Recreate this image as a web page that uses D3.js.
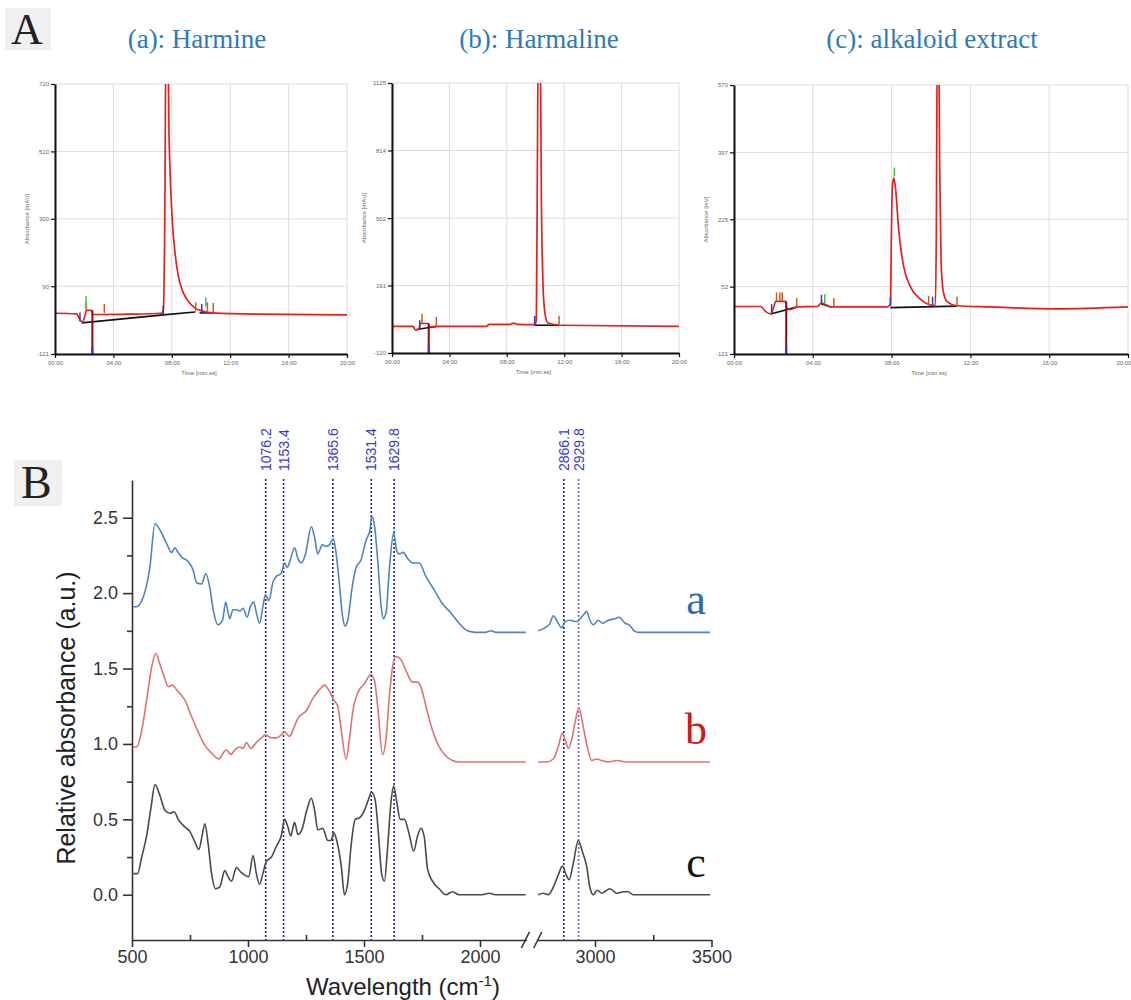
<!DOCTYPE html>
<html>
<head>
<meta charset="utf-8">
<script src="https://cdn.jsdelivr.net/npm/d3@7"></script>
<style>
body { margin: 0; background: #fff; }
svg { display: block; }
</style>
</head>
<body>
<div id="chart-area"></div>
<script>

// ---------- Panel A : HPLC chromatograms (time in min, signal in mAU) ----------
let timeTicks = [0, 4, 8, 12, 16, 20];
let timeLabels = ["00:00", "04:00", "08:00", "12:00", "16:00", "20:00"];

let harmineTicks = [720, 510, 300, 90, -121];
let harmineTrace = [[0,6],[1.48,4],[1.71,-14],[1.87,-22],[2.05,-2],[2.16,15],[2.51,15],[2.6,2],[2.97,2],[5,3],
  [7.3,6],[7.42,17],[7.53,360],[7.6,900],[7.72,900],[7.81,568],[7.92,401],[8.06,276],[8.22,194],[8.45,121],
  [8.75,74],[9.13,43],[9.59,22],[10.16,12],[10.84,7],[14,3],[20,1]];
let harmineBaseline = [[[1.83,-24],[7.42,1],[9.6,10]], [[9.9,7],[10.84,7]]];
let harmineDrop = [2.56, 15];
let harmineMarks = [[1.71,-20,"start"],[2.13,12,"end"],[2.13,32,"apex"],[3.38,7,"end"],[7.42,2,"start"],
  [9.64,12,"end"],[10.05,7,"start"],[10.33,27,"apex"],[10.44,12,"end"],[10.84,10,"end"]];

let harmalineTicks = [1125, 814, 502, 191, -120];
let harmalineTrace = [[0,3],[1.46,3],[1.65,-15],[1.88,-7],[1.98,16],[2.51,16],[2.63,0],[3.09,3],[6.58,3],[6.76,12],
  [8.2,12],[8.48,18],[8.78,12],[9.94,11],[10.06,31],[10.13,738],[10.2,1400],[10.32,1400],[10.41,585],[10.52,200],
  [10.66,62],[10.87,18],[11.69,8],[20,3]];
let harmalineBaseline = [[[1.7,-12],[3.09,2]], [[9.94,8],[11.64,8]]];
let harmalineDrop = [2.56, 16];
let harmalineMarks = [[1.93,-10,"start"],[2.09,20,"end"],[3.09,5,"end"],[9.94,10,"start"],[11.64,10,"end"]];

let extractTicks = [570, 397, 225, 52, -121];
let extractTrace = [[0,1],[1.35,1],[1.61,-12],[1.86,-18],[2.03,1],[2.11,14],[2.62,14],[2.67,-3],[2.87,-7],[3.21,0],
  [4.23,1],[4.43,10],[4.65,6],[4.9,0],[7.77,0],[7.94,6],[7.99,190],[8.04,309],[8.11,331],[8.19,309],[8.36,198],
  [8.61,104],[8.95,52],[9.46,20],[9.88,6],[10.22,3],[10.27,190],[10.32,700],[10.39,700],[10.44,360],[10.51,121],
  [10.61,44],[10.81,14],[11.32,3],[13,0],[16.4,-5],[20,0]];
let extractBaseline = [[[1.86,-18],[3.21,0]], [[4.43,8],[4.9,0]], [[7.94,-2],[11.32,2]]];
let extractDrop = [2.65, 14];
let extractMarks = [[1.91,-16,"start"],[2.16,14,"end"],[2.33,14,"end"],[2.45,14,"end"],[3.18,0,"end"],
  [4.44,8,"start"],[4.61,10,"apex"],[5.07,0,"end"],[7.94,2,"start"],[8.14,335,"apex"],[9.88,5,"end"],
  [10.08,3,"start"],[11.32,3,"end"]];

// ---------- Panel B : FTIR spectra [wavenumber, relative absorbance] ----------
let yTicksB = [0, 0.5, 1, 1.5, 2, 2.5];
let yMinorB = [0.25, 0.75, 1.25, 1.75, 2.25];
let xTicksLeft = [500, 1000, 1500, 2000];
let xMinorLeft = [750, 1250, 1750];
let xTicksRight = [3000, 3500];
let xMinorRight = [3250];
let peakPositions = [1076.2, 1153.4, 1365.6, 1531.4, 1629.8, 2866.1, 2929.8];

let ftirA = [[506,1.91],[520,1.91],[542,1.95],[556,2.01],[577,2.17],[599,2.46],[620,2.42],[649,2.33],[671,2.27],
  [685,2.30],[699,2.27],[714,2.24],[742,2.21],[764,2.15],[778,2.07],[800,2.06],[818,2.13],[835,2.04],[850,1.89],
  [871,1.79],[890,1.82],[904,1.94],[921,1.83],[935,1.89],[953,1.89],[964,1.88],[979,1.90],[996,1.84],[1010,1.91],
  [1025,1.94],[1036,1.87],[1050,1.80],[1064,1.91],[1076,1.99],[1090,1.95],[1107,2.07],[1122,2.11],[1143,2.13],
  [1158,2.20],[1169,2.17],[1182,2.22],[1201,2.30],[1215,2.23],[1230,2.20],[1248,2.26],[1273,2.44],[1287,2.37],
  [1301,2.26],[1320,2.32],[1337,2.31],[1351,2.32],[1368,2.36],[1380,2.26],[1394,2.06],[1408,1.84],[1419,1.78],
  [1430,1.82],[1449,2.04],[1466,2.17],[1487,2.22],[1509,2.35],[1526,2.42],[1533,2.51],[1545,2.45],[1559,2.22],
  [1574,1.91],[1583,1.83],[1595,1.87],[1609,2.15],[1628,2.40],[1641,2.28],[1652,2.26],[1669,2.27],[1688,2.23],
  [1709,2.20],[1738,2.20],[1767,2.11],[1803,2.02],[1838,1.93],[1874,1.87],[1910,1.80],[1946,1.75],[1982,1.74],
  [2025,1.74],[2047,1.75],[2068,1.74],[2197,1.74],
  [2756,1.75],[2785,1.77],[2807,1.80],[2821,1.85],[2835,1.82],[2857,1.77],[2871,1.81],[2892,1.82],[2921,1.81],
  [2936,1.83],[2953,1.86],[2964,1.88],[2978,1.82],[2993,1.79],[3014,1.82],[3033,1.80],[3057,1.82],[3086,1.83],
  [3104,1.84],[3129,1.80],[3147,1.79],[3168,1.75],[3186,1.74],[3494,1.74]];

let ftirB = [[506,0.98],[520,0.98],[542,1.09],[563,1.29],[585,1.51],[602,1.60],[620,1.53],[642,1.43],[656,1.38],
  [673,1.39],[692,1.36],[714,1.32],[728,1.29],[757,1.18],[785,1.08],[814,0.99],[843,0.94],[875,0.90],[893,0.94],
  [907,0.96],[926,0.93],[943,0.96],[964,0.98],[979,0.97],[993,1.01],[1012,0.97],[1036,1.01],[1058,1.04],[1075,1.06],
  [1101,1.04],[1122,1.04],[1143,1.06],[1158,1.08],[1179,1.05],[1193,1.09],[1215,1.17],[1251,1.22],[1279,1.30],
  [1308,1.36],[1330,1.39],[1351,1.35],[1370,1.29],[1387,1.25],[1402,1.09],[1423,0.90],[1437,1.03],[1452,1.22],
  [1473,1.34],[1502,1.40],[1530,1.46],[1545,1.42],[1559,1.25],[1580,0.93],[1595,1.03],[1609,1.31],[1623,1.51],
  [1638,1.58],[1659,1.56],[1680,1.49],[1709,1.41],[1731,1.41],[1745,1.38],[1767,1.25],[1795,1.09],[1824,0.98],
  [1853,0.92],[1881,0.89],[1910,0.88],[2197,0.88],
  [2756,0.88],[2792,0.88],[2821,0.90],[2842,0.98],[2860,1.07],[2871,1.03],[2886,0.97],[2900,1.03],[2914,1.14],
  [2931,1.24],[2950,1.11],[2967,0.98],[2986,0.89],[3007,0.90],[3029,0.89],[3057,0.88],[3093,0.89],[3136,0.88],
  [3164,0.88],[3379,0.88],[3422,0.88],[3494,0.88]];

let ftirC = [[506,0.14],[524,0.14],[542,0.25],[563,0.39],[582,0.58],[599,0.73],[620,0.66],[642,0.56],[663,0.54],
  [682,0.55],[699,0.50],[728,0.45],[749,0.42],[771,0.35],[788,0.30],[802,0.39],[814,0.47],[828,0.34],[843,0.14],
  [860,0.04],[878,0.05],[900,0.16],[914,0.12],[929,0.09],[950,0.18],[969,0.15],[986,0.13],[1003,0.12],[1022,0.26],
  [1036,0.14],[1050,0.07],[1064,0.14],[1079,0.22],[1101,0.25],[1122,0.32],[1143,0.39],[1158,0.50],[1172,0.45],
  [1184,0.39],[1201,0.48],[1215,0.40],[1232,0.43],[1255,0.57],[1273,0.64],[1287,0.56],[1301,0.43],[1322,0.44],
  [1344,0.36],[1358,0.36],[1370,0.41],[1384,0.35],[1402,0.19],[1416,0.00],[1430,0.08],[1444,0.32],[1462,0.50],
  [1480,0.51],[1502,0.56],[1519,0.63],[1533,0.68],[1548,0.63],[1562,0.41],[1576,0.14],[1588,0.09],[1602,0.32],
  [1616,0.61],[1628,0.72],[1642,0.61],[1656,0.50],[1674,0.50],[1695,0.40],[1714,0.29],[1731,0.39],[1746,0.44],
  [1760,0.38],[1774,0.17],[1795,0.09],[1824,0.04],[1853,0.00],[1881,0.02],[1910,0.00],[2010,0.00],[2039,0.01],
  [2068,0.00],[2197,0.00],
  [2756,0.00],[2778,0.01],[2799,0.00],[2821,0.05],[2842,0.13],[2860,0.19],[2874,0.14],[2889,0.10],[2907,0.21],
  [2928,0.36],[2947,0.28],[2964,0.19],[2978,0.05],[2993,0.00],[3010,0.03],[3029,0.01],[3065,0.04],[3093,0.01],
  [3122,0.02],[3143,0.02],[3164,0.00],[3494,0.00]];


let svg = d3.select("#chart-area").append("svg")
    .attr("width", 1131)
    .attr("height", 1000);

let defs = svg.append("defs");

let markColor = {start: "#3434d0", end: "#d2561e", apex: "#3cbf5a"};

// panel letters with their grey scanned background
function panelLetter(txt, x, y, size, box) {
  svg.append("rect").attr("x", box[0]).attr("y", box[1]).attr("width", box[2]).attr("height", box[3])
    .attr("fill", "#f0f0f0");
  svg.append("text").attr("x", x).attr("y", y).text(txt)
    .attr("font-family", "'Liberation Serif', 'Times New Roman', serif")
    .attr("font-size", size).attr("fill", "#222");
}
panelLetter("A", 11, 44, 44, [5, 8, 46, 42]);
panelLetter("B", 21, 498, 46, [14, 460, 48, 46]);

// ---------- chromatograms ----------
let chromPanels = [
  {title: "(a): Harmine", titleX: 197, ylab: "Absorbance [mAU]", ticks: harmineTicks, trace: harmineTrace,
   base: harmineBaseline, drop: harmineDrop, marks: harmineMarks, left: 55, right: 347, top: 84, bottom: 354},
  {title: "(b): Harmaline", titleX: 539, ylab: "Absorbance [mAU]", ticks: harmalineTicks, trace: harmalineTrace,
   base: harmalineBaseline, drop: harmalineDrop, marks: harmalineMarks, left: 392, right: 679, top: 83, bottom: 353},
  {title: "(c): alkaloid extract", titleX: 932, ylab: "Absorbance [mV]", ticks: extractTicks, trace: extractTrace,
   base: extractBaseline, drop: extractDrop, marks: extractMarks, left: 734, right: 1128, top: 85, bottom: 354}
];

chromPanels.forEach(function(p, i) {
  let x = d3.scaleLinear().domain([0, 20]).range([p.left, p.right]);
  let y = d3.scaleLinear().domain([p.ticks[p.ticks.length - 1], p.ticks[0]]).range([p.bottom, p.top]);
  let g = svg.append("g");

  svg.append("text").attr("x", p.titleX).attr("y", 48).text(p.title)
    .attr("text-anchor", "middle")
    .attr("font-family", "'Liberation Serif', 'Times New Roman', serif")
    .attr("font-size", 27).attr("fill", "#2b7bba");

  // grid
  g.selectAll(".hgrid").data(p.ticks).enter().append("line")
    .attr("x1", p.left).attr("x2", p.right)
    .attr("y1", d => y(d)).attr("y2", d => y(d))
    .attr("stroke", "#dcdcdc").attr("stroke-width", 1);
  g.selectAll(".vgrid").data(timeTicks).enter().append("line")
    .attr("x1", d => x(d)).attr("x2", d => x(d))
    .attr("y1", p.top).attr("y2", p.bottom)
    .attr("stroke", "#dcdcdc").attr("stroke-width", 1);

  defs.append("clipPath").attr("id", "clip" + i).append("rect")
    .attr("x", p.left).attr("y", p.top).attr("width", p.right - p.left).attr("height", p.bottom - p.top);
  let plot = g.append("g").attr("clip-path", "url(#clip" + i + ")");

  let line = d3.line().x(d => x(d[0])).y(d => y(d[1]));

  // integration baseline
  p.base.forEach(function(seg) {
    plot.append("path").datum(seg).attr("d", line)
      .attr("fill", "none").attr("stroke", "#111").attr("stroke-width", 1.6);
  });

  // trace
  plot.append("path").datum(p.trace).attr("d", line.curve(d3.curveMonotoneX))
    .attr("fill", "none").attr("stroke", "#e3211f").attr("stroke-width", 1.7);

  // drop line of the injection artefact
  plot.append("line")
    .attr("x1", x(p.drop[0])).attr("x2", x(p.drop[0]))
    .attr("y1", y(p.drop[1])).attr("y2", y(p.ticks[p.ticks.length - 1]))
    .attr("stroke", "#8a0d0d").attr("stroke-width", 2);
  plot.append("line")
    .attr("x1", x(p.drop[0])).attr("x2", x(p.drop[0]))
    .attr("y1", y(p.ticks[p.ticks.length - 1]) - 8).attr("y2", y(p.ticks[p.ticks.length - 1]))
    .attr("stroke", "#3434d0").attr("stroke-width", 2);

  // peak markers
  plot.selectAll(".mark").data(p.marks).enter().append("line")
    .attr("x1", d => x(d[0])).attr("x2", d => x(d[0]))
    .attr("y1", d => y(d[1])).attr("y2", d => y(d[1]) - 9)
    .attr("stroke", d => markColor[d[2]]).attr("stroke-width", 1.5);

  // axes
  let ya = g.append("g").attr("transform", "translate(" + p.left + ",0)")
    .call(d3.axisLeft(y).tickValues(p.ticks).tickSize(4).tickSizeOuter(0).tickPadding(2).tickFormat(d => d));
  let xa = g.append("g").attr("transform", "translate(0," + p.bottom + ")")
    .call(d3.axisBottom(x).tickValues(timeTicks).tickSize(4).tickSizeOuter(0).tickPadding(3)
      .tickFormat((d, j) => timeLabels[j]));
  [ya, xa].forEach(function(a) {
    a.select(".domain").attr("stroke", "#111").attr("stroke-width", 2);
    a.selectAll(".tick line").attr("stroke", "#111").attr("stroke-width", 1.2);
    a.selectAll(".tick text").attr("font-size", 6).attr("fill", "#666")
      .attr("font-family", "'Liberation Sans', Arial, sans-serif");
  });
  // keep the last time label inside the page
  if (p.right > 1120) {
    xa.selectAll(".tick text").filter(d => d === 20).attr("text-anchor", "end").attr("dx", 3);
  }

  g.append("text").attr("x", (p.left + p.right) / 2 - 2).attr("y", p.bottom + 21)
    .text("Time [min.ss]").attr("text-anchor", "middle")
    .attr("font-size", 6).attr("fill", "#666").attr("font-family", "'Liberation Sans', Arial, sans-serif");
  g.append("text")
    .attr("transform", "translate(" + (p.left - 26) + "," + ((p.top + p.bottom) / 2) + ") rotate(-90)")
    .text(p.ylab).attr("text-anchor", "middle")
    .attr("font-size", 6).attr("fill", "#666").attr("font-family", "'Liberation Sans', Arial, sans-serif");
});

// ---------- FTIR panel ----------
const breakLo = 2200, breakHi = 2750;
let xL = d3.scaleLinear().domain([500, 2000]).range([132, 480]);
let xR = d3.scaleLinear().domain([3000, 3500]).range([595, 711.5]);
function xw(w) { return w <= breakLo ? xL(w) : xR(w); }
let yB = d3.scaleLinear().domain([-0.3, 2.75]).range([940, 480]);

let gB = svg.append("g").attr("font-family", "'Liberation Sans', Arial, sans-serif");

// dotted reference lines at the assigned bands
gB.selectAll(".peakline").data(peakPositions).enter().append("line")
  .attr("x1", d => xw(d)).attr("x2", d => xw(d))
  .attr("y1", 479).attr("y2", yB(-0.3))
  .attr("stroke", (d, i) => i === peakPositions.length - 1 ? "#7066d8" : "#22228c")
  .attr("stroke-width", 1.6).attr("stroke-dasharray", "2,2");
gB.selectAll(".peaklabel").data(peakPositions).enter().append("text")
  .attr("transform", d => "translate(" + (xw(d) + 5) + ",471) rotate(-90)")
  .text(d => d.toFixed(1))
  .attr("font-size", 14).attr("fill", "#3a3acc");

// spectra
let specLine = d3.line().x(d => xw(d[0])).y(d => yB(d[1])).curve(d3.curveMonotoneX);
let spectra = [[ftirA, "#4f86c0"], [ftirB, "#e07272"], [ftirC, "#4a4a4a"]];
spectra.forEach(function(s) {
  let leftPart = s[0].filter(d => d[0] <= breakLo);
  let rightPart = s[0].filter(d => d[0] >= breakHi);
  [leftPart, rightPart].forEach(function(part) {
    gB.append("path").datum(part).attr("d", specLine)
      .attr("fill", "none").attr("stroke", s[1]).attr("stroke-width", 1.6);
  });
});

// axes
function styleAxis(a) {
  a.select(".domain").attr("stroke", "#333").attr("stroke-width", 1.6);
  a.selectAll(".tick line").attr("stroke", "#333").attr("stroke-width", 1.6);
  a.selectAll(".tick text").attr("font-size", 18).attr("fill", "#333")
    .attr("font-family", "'Liberation Sans', Arial, sans-serif");
}

let yAxisB = gB.append("g").attr("transform", "translate(132,0)")
  .call(d3.axisLeft(yB).tickValues(yTicksB).tickFormat(d3.format(".1f")).tickSize(9).tickSizeOuter(0).tickPadding(5));
styleAxis(yAxisB);
let yMinor = gB.append("g").attr("transform", "translate(132,0)")
  .call(d3.axisLeft(yB).tickValues(yMinorB).tickFormat("").tickSize(5).tickSizeOuter(0));
yMinor.select(".domain").remove();
styleAxis(yMinor);

let xLeftAxis = d3.scaleLinear().domain([500, breakLo]).range([xL(500), xL(breakLo)]);
let xRightAxis = d3.scaleLinear().domain([breakHi, 3500]).range([xR(breakHi), xR(3500)]);

let axL = gB.append("g").attr("transform", "translate(0,940)")
  .call(d3.axisBottom(xLeftAxis).tickValues(xTicksLeft).tickSize(7).tickSizeOuter(0).tickPadding(3).tickFormat(d => d));
styleAxis(axL);
let axR = gB.append("g").attr("transform", "translate(0,940)")
  .call(d3.axisBottom(xRightAxis).tickValues(xTicksRight).tickSize(7).tickSizeOuter(0).tickPadding(3).tickFormat(d => d));
styleAxis(axR);
let mnL = gB.append("g").attr("transform", "translate(0,940)")
  .call(d3.axisBottom(xLeftAxis).tickValues(xMinorLeft).tickSize(-5).tickFormat(""));
mnL.select(".domain").remove();
styleAxis(mnL);
let mnR = gB.append("g").attr("transform", "translate(0,940)")
  .call(d3.axisBottom(xRightAxis).tickValues(xMinorRight).tickSize(-5).tickFormat(""));
mnR.select(".domain").remove();
styleAxis(mnR);

// axis break marks
[xL(breakLo) - 1, xR(breakHi) + 1].forEach(function(cx) {
  gB.append("line").attr("x1", cx - 4).attr("x2", cx + 4).attr("y1", 948).attr("y2", 932)
    .attr("stroke", "#333").attr("stroke-width", 1.6);
});

// axis titles
gB.append("text")
  .attr("transform", "translate(75,718) rotate(-90)")
  .attr("text-anchor", "middle").attr("font-size", 25).attr("fill", "#222")
  .text("Relative absorbance (a.u.)");
let xt = gB.append("text").attr("x", 403).attr("y", 995)
  .attr("text-anchor", "middle").attr("font-size", 24).attr("fill", "#222");
xt.append("tspan").text("Wavelength (cm");
xt.append("tspan").text("-1").attr("font-size", 15).attr("dy", -9);
xt.append("tspan").text(")").attr("dy", 9);

// series letters
let seriesLabels = [["a", 1.74, "#2a6aad"], ["b", 0.88, "#cc1a1a"], ["c", 0.0, "#111"]];
gB.selectAll(".slabel").data(seriesLabels).enter().append("text")
  .attr("x", 696).attr("y", d => yB(d[1]) - 18)
  .attr("text-anchor", "middle")
  .attr("font-family", "'Liberation Serif', 'Times New Roman', serif")
  .attr("font-size", 44).attr("fill", d => d[2])
  .text(d => d[0]);

</script>
</body>
</html>
